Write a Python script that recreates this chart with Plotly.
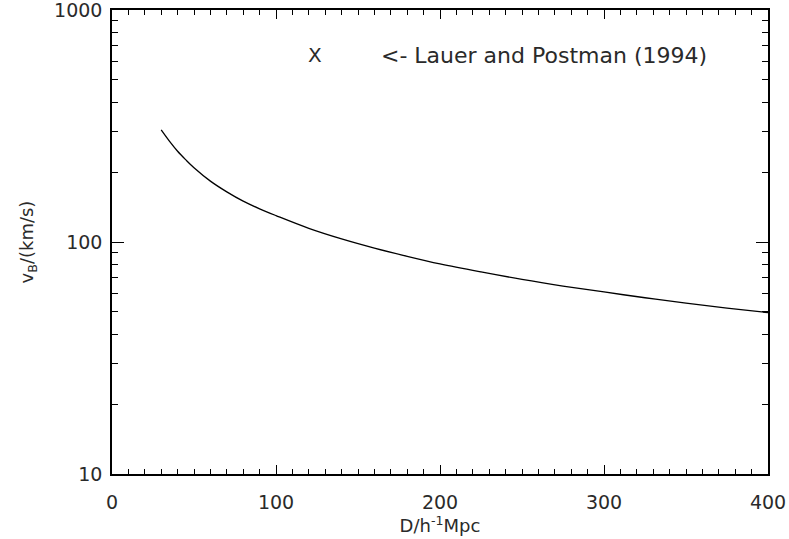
import plotly.graph_objects as go

# Bulk-flow velocity amplitude against survey depth
depth = [30, 35, 40, 45, 50, 60, 70, 80, 90, 100, 120, 140, 160, 180, 200,
         225, 250, 275, 300, 325, 350, 375, 400]
v_bulk = [304, 272, 246, 226, 209, 183, 164.5, 150, 139, 130, 114.6, 103.2, 94.2, 86.8, 80.5,
          74.3, 69.0, 64.6, 60.9, 57.5, 54.5, 51.9, 49.6]

x_ticks = [0, 100, 200, 300, 400]
y_ticks = [10, 100, 1000]

FONT = "DejaVu Sans"
INK = "#2a2a2a"

fig = go.Figure()
fig.add_trace(go.Scatter(
    x=depth, y=v_bulk, mode="lines",
    line=dict(color="black", width=1.3, shape="spline"),
    showlegend=False, hoverinfo="skip",
))

# Marker symbol and its caption
fig.add_annotation(x=124, y=2.805, xref="x", yref="y", text="X", showarrow=False,
                   font=dict(family=FONT, size=20, color=INK))
fig.add_annotation(x=0.407, y=2.805, xref="paper", yref="y", showarrow=False,
                   text="<- Lauer and Postman (1994)", xanchor="left",
                   font=dict(family=FONT, size=22, color=INK))

axis_common = dict(
    showline=True, linecolor="black", linewidth=1.5, mirror="ticks",
    ticks="inside", tickcolor="black", tickwidth=1.2,
    showgrid=False, zeroline=False, automargin=False,
    ticklabeloverflow="allow",
    tickfont=dict(family=FONT, size=19, color=INK),
)

fig.update_xaxes(
    range=[0, 400], tickvals=x_ticks, ticklen=9,
    minor=dict(ticks="inside", dtick=10, ticklen=5, tickcolor="black", tickwidth=1),
    ticklabelstandoff=10,
    title=dict(text="D/h<sup>-1</sup>Mpc", standoff=2,
               font=dict(family=FONT, size=18, color=INK)),
    **axis_common,
)
fig.update_yaxes(
    type="log", range=[1, 3], tickvals=y_ticks, ticklen=12,
    minor=dict(ticks="inside", dtick="D1", ticklen=6, tickcolor="black", tickwidth=1),
    ticklabelstandoff=4,
    title=dict(text="v<sub>B</sub>/(km/s)", standoff=16,
               font=dict(family=FONT, size=18, color=INK)),
    **axis_common,
)

fig.update_layout(
    width=789, height=539,
    margin=dict(l=112, r=21, t=10, b=65),
    paper_bgcolor="white", plot_bgcolor="white",
)

fig.write_html("out.html")
